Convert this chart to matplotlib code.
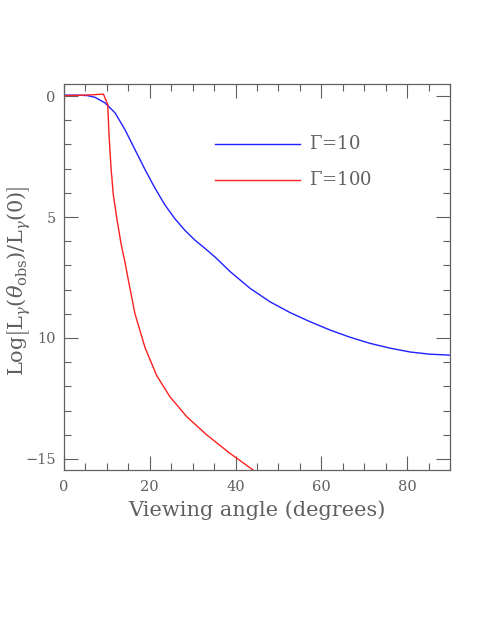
import numpy as np
import matplotlib
matplotlib.use('Agg')
import matplotlib.pyplot as plt
from matplotlib.ticker import MultipleLocator, FixedLocator, FixedFormatter

# Gamma = 10 curve
angle_g10 = [0, 3, 5.5, 7.23, 9.56, 11.9, 14.2, 16.55, 18.9, 21.2, 23.5, 25.9,
             28.2, 30.5, 32.9, 35.2, 38.7, 43.4, 48.0, 52.7, 57.4, 62.0, 66.7,
             71.3, 76.0, 80.7, 85.3, 90]
lum_g10 = [0.04, 0.04, 0.02, -0.05, -0.28, -0.69, -1.38, -2.21, -3.04, -3.8,
           -4.49, -5.08, -5.55, -5.95, -6.3, -6.65, -7.25, -7.95, -8.5, -8.95,
           -9.33, -9.67, -9.97, -10.22, -10.42, -10.58, -10.67, -10.71]

# Gamma = 100 curve
angle_g100 = [0, 3, 6, 9.2, 10.2, 10.5, 10.97, 11.5, 12.3, 13.3, 14.2, 15.0,
              16.55, 18.9, 21.6, 24.7, 28.6, 33.3, 38.7, 44.1, 46]
lum_g100 = [0.02, 0.03, 0.05, 0.08, -0.35, -1.59, -2.97, -4.07, -5.04, -6.1,
            -6.85, -7.6, -9.0, -10.4, -11.55, -12.43, -13.25, -14.01, -14.77,
            -15.46, -15.68]

ytick_vals = [0, -5, -10, -15]
ytick_text = ['0', '5', '10', '\u221215']

grey = '#606060'
blue = '#2020ff'
red = '#ff2020'
plt.rcParams['font.family'] = 'DejaVu Serif'
plt.rcParams['mathtext.fontset'] = 'dejavuserif'

fig = plt.figure(figsize=(4.91, 6.35), dpi=100)
ax = fig.add_axes([0.1303, 0.2598, 0.7862, 0.6079])

ax.plot(angle_g10, lum_g10, color=blue, lw=1.0)
ax.plot(angle_g100, lum_g100, color=red, lw=1.0)

# legend drawn by hand like the original
ax.plot([35.2, 55], [-1.96, -1.96], color=blue, lw=1.0)
ax.plot([35.2, 55], [-3.45, -3.45], color=red, lw=1.0)
ax.text(57.2, -1.96, r'$\Gamma$=10', color=grey, fontsize=13, va='center')
ax.text(57.2, -3.45, r'$\Gamma$=100', color=grey, fontsize=13, va='center')

ax.set_xlim(0, 90)
ax.set_ylim(-15.46, 0.5)

ax.xaxis.set_major_locator(MultipleLocator(20))
ax.xaxis.set_minor_locator(MultipleLocator(5))
ax.yaxis.set_major_locator(FixedLocator(ytick_vals))
ax.yaxis.set_major_formatter(FixedFormatter(ytick_text))
ax.yaxis.set_minor_locator(MultipleLocator(1))

ax.tick_params(which='both', direction='in', top=True, right=True, color=grey,
               labelcolor=grey, labelsize=10.5, width=0.8)
ax.tick_params(which='major', length=10, pad=7)
ax.tick_params(axis='y', which='major', pad=6)
ax.tick_params(which='minor', length=5)
for s in ax.spines.values():
    s.set_color(grey)
    s.set_linewidth(0.9)

ax.set_xlabel('Viewing angle (degrees)', color=grey, fontsize=15, labelpad=5)
ax.set_ylabel(r'Log$\left[\mathrm{L}_\gamma(\theta_{\rm obs})/\mathrm{L}_\gamma(0)\right]$',
              color=grey, fontsize=15)
ax.yaxis.set_label_coords(-0.08, 0.49)

fig.savefig('out.png', dpi=100)
